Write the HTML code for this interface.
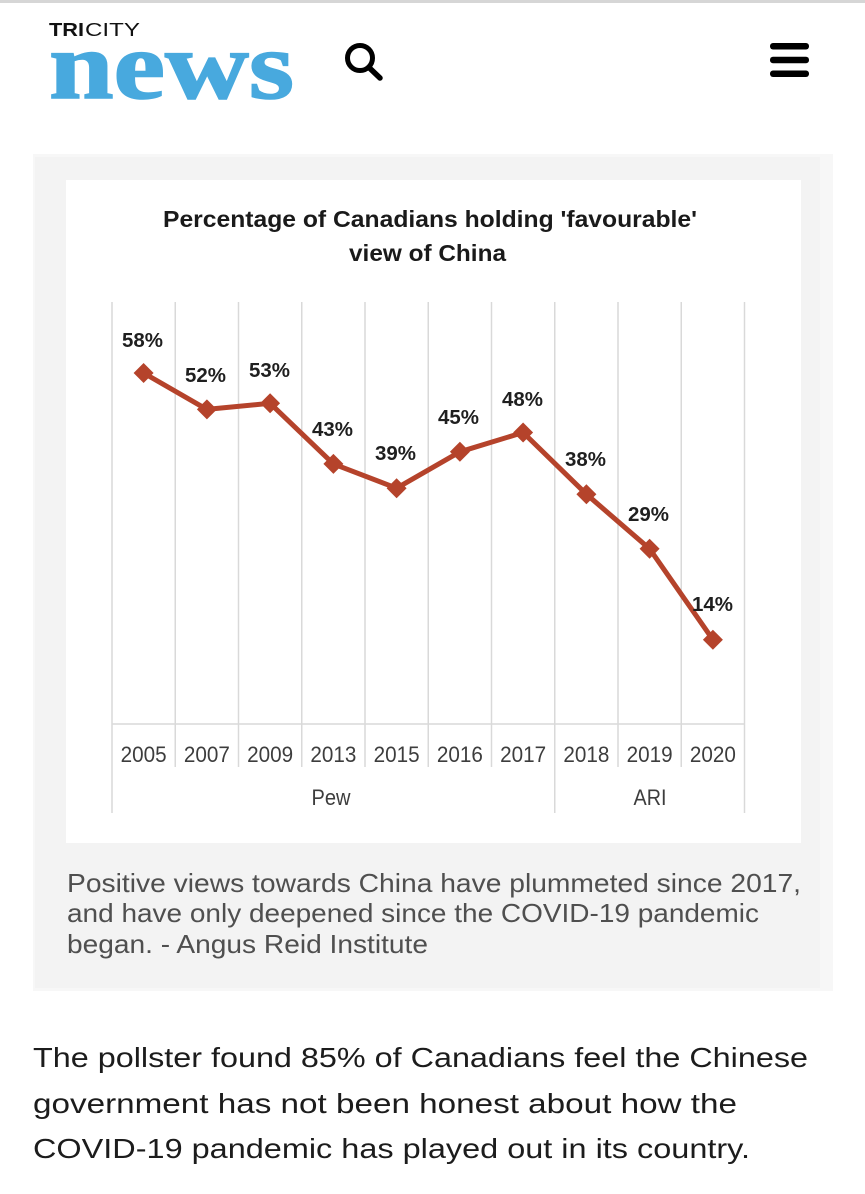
<!DOCTYPE html>
<html>
<head>
<meta charset="utf-8">
<style>
  html, body { margin:0; padding:0; background:#ffffff; }
  body { width:865px; height:1194px; overflow:hidden; }
  svg { display:block; }
  .sans { font-family: "Liberation Sans", Arial, sans-serif; }
  .serif { font-family: "Liberation Serif", "Times New Roman", serif; }
</style>
</head>
<body>
<svg width="865" height="1194" viewBox="0 0 865 1194" xmlns="http://www.w3.org/2000/svg">
  <!-- top thin line -->
  <rect x="0" y="0" width="865" height="3" fill="#d6d6d6"/>

  <!-- Logo -->
  <text class="sans" x="49" y="36" font-size="18" font-weight="bold" fill="#111" textLength="35" lengthAdjust="spacingAndGlyphs">TRI</text>
  <text class="sans" x="85" y="36" font-size="18" fill="#111" textLength="55" lengthAdjust="spacingAndGlyphs">CITY</text>
  <text class="serif" x="49" y="98" font-size="96" font-weight="bold" fill="#48a9de" stroke="#48a9de" stroke-width="1.6" textLength="245" lengthAdjust="spacingAndGlyphs">news</text>

  <!-- Search icon -->
  <circle cx="360" cy="58" r="12.5" fill="none" stroke="#000" stroke-width="5"/>
  <line x1="369" y1="67.5" x2="380" y2="78" stroke="#000" stroke-width="5.5" stroke-linecap="round"/>

  <!-- Hamburger -->
  <rect x="770" y="43" width="39" height="6.5" rx="3" fill="#000"/>
  <rect x="770" y="56.8" width="39" height="6.5" rx="3" fill="#000"/>
  <rect x="770" y="70.5" width="39" height="6.5" rx="3" fill="#000"/>

  <!-- Caption box -->
  <rect x="33" y="154" width="800" height="837" fill="#f7f7f7"/>
  <rect x="35" y="157" width="785" height="831" fill="#f3f3f3"/>

  <!-- White chart panel -->
  <rect x="66" y="180" width="735" height="663" fill="#ffffff"/>

  <!-- Chart title -->
  <text class="sans" x="163" y="227" font-size="23" font-weight="bold" fill="#1a1a1a" textLength="534" lengthAdjust="spacingAndGlyphs">Percentage of Canadians holding 'favourable'</text>
  <text class="sans" x="349" y="261" font-size="23" font-weight="bold" fill="#1a1a1a" textLength="157" lengthAdjust="spacingAndGlyphs">view of China</text>

  <!-- Gridlines -->
  <g stroke="#d9d9d9" stroke-width="1.5">
    <line x1="112" y1="302" x2="112" y2="813"/>
    <line x1="175.25" y1="302" x2="175.25" y2="767"/>
    <line x1="238.5" y1="302" x2="238.5" y2="767"/>
    <line x1="301.75" y1="302" x2="301.75" y2="767"/>
    <line x1="365" y1="302" x2="365" y2="767"/>
    <line x1="428.25" y1="302" x2="428.25" y2="767"/>
    <line x1="491.5" y1="302" x2="491.5" y2="767"/>
    <line x1="554.75" y1="302" x2="554.75" y2="813"/>
    <line x1="618" y1="302" x2="618" y2="767"/>
    <line x1="681.25" y1="302" x2="681.25" y2="767"/>
    <line x1="744.5" y1="302" x2="744.5" y2="813"/>
    <line x1="112" y1="724" x2="744.5" y2="724"/>
  </g>

  <!-- Year labels -->
  <g class="sans" font-size="22" fill="#3d3d3d" text-anchor="middle">
    <text x="143.6" y="762" textLength="46" lengthAdjust="spacingAndGlyphs">2005</text>
    <text x="206.9" y="762" textLength="46" lengthAdjust="spacingAndGlyphs">2007</text>
    <text x="270.1" y="762" textLength="46" lengthAdjust="spacingAndGlyphs">2009</text>
    <text x="333.4" y="762" textLength="46" lengthAdjust="spacingAndGlyphs">2013</text>
    <text x="396.6" y="762" textLength="46" lengthAdjust="spacingAndGlyphs">2015</text>
    <text x="459.9" y="762" textLength="46" lengthAdjust="spacingAndGlyphs">2016</text>
    <text x="523.1" y="762" textLength="46" lengthAdjust="spacingAndGlyphs">2017</text>
    <text x="586.4" y="762" textLength="46" lengthAdjust="spacingAndGlyphs">2018</text>
    <text x="649.6" y="762" textLength="46" lengthAdjust="spacingAndGlyphs">2019</text>
    <text x="712.9" y="762" textLength="46" lengthAdjust="spacingAndGlyphs">2020</text>
    <text x="331" y="805" textLength="39" lengthAdjust="spacingAndGlyphs">Pew</text>
    <text x="650" y="805" textLength="33" lengthAdjust="spacingAndGlyphs">ARI</text>
  </g>

  <!-- Series line -->
  <polyline fill="none" stroke="#b5432b" stroke-width="5" stroke-linejoin="round"
    points="143.6,373 206.9,409.4 270.1,403.3 333.4,463.9 396.6,488.2 459.9,451.8 523.1,432.5 586.4,494.2 649.6,548.8 712.9,639.7"/>

  <!-- Markers -->
  <g fill="#b5432b">
    <polygon points="143.6,363 153.6,373 143.6,383 133.6,373"/>
    <polygon points="206.9,399.4 216.9,409.4 206.9,419.4 196.9,409.4"/>
    <polygon points="270.1,393.3 280.1,403.3 270.1,413.3 260.1,403.3"/>
    <polygon points="333.4,453.9 343.4,463.9 333.4,473.9 323.4,463.9"/>
    <polygon points="396.6,478.2 406.6,488.2 396.6,498.2 386.6,488.2"/>
    <polygon points="459.9,441.8 469.9,451.8 459.9,461.8 449.9,451.8"/>
    <polygon points="523.1,422.5 533.1,432.5 523.1,442.5 513.1,432.5"/>
    <polygon points="586.4,484.2 596.4,494.2 586.4,504.2 576.4,494.2"/>
    <polygon points="649.6,538.8 659.6,548.8 649.6,558.8 639.6,548.8"/>
    <polygon points="712.9,629.7 722.9,639.7 712.9,649.7 702.9,639.7"/>
  </g>

  <!-- Data labels -->
  <g class="sans" font-size="20" font-weight="bold" fill="#1f1f1f">
    <text x="122" y="347" textLength="41" lengthAdjust="spacingAndGlyphs">58%</text>
    <text x="185" y="382" textLength="41" lengthAdjust="spacingAndGlyphs">52%</text>
    <text x="249" y="377" textLength="41" lengthAdjust="spacingAndGlyphs">53%</text>
    <text x="312" y="436" textLength="41" lengthAdjust="spacingAndGlyphs">43%</text>
    <text x="375" y="460" textLength="41" lengthAdjust="spacingAndGlyphs">39%</text>
    <text x="438" y="424" textLength="41" lengthAdjust="spacingAndGlyphs">45%</text>
    <text x="502" y="406" textLength="41" lengthAdjust="spacingAndGlyphs">48%</text>
    <text x="565" y="466" textLength="41" lengthAdjust="spacingAndGlyphs">38%</text>
    <text x="628" y="521" textLength="41" lengthAdjust="spacingAndGlyphs">29%</text>
    <text x="692" y="611" textLength="41" lengthAdjust="spacingAndGlyphs">14%</text>
  </g>

  <!-- Caption -->
  <g class="sans" font-size="26" fill="#4f4f4f">
    <text x="67" y="892" textLength="734" lengthAdjust="spacingAndGlyphs">Positive views towards China have plummeted since 2017,</text>
    <text x="67" y="922" textLength="692" lengthAdjust="spacingAndGlyphs">and have only deepened since the COVID-19 pandemic</text>
    <text x="67" y="953" textLength="361" lengthAdjust="spacingAndGlyphs">began. - Angus Reid Institute</text>
  </g>

  <!-- Body text -->
  <g class="sans" font-size="28" fill="#1c1c1c">
    <text x="33" y="1067" textLength="775" lengthAdjust="spacingAndGlyphs">The pollster found 85% of Canadians feel the Chinese</text>
    <text x="33" y="1113" textLength="704" lengthAdjust="spacingAndGlyphs">government has not been honest about how the</text>
    <text x="33" y="1158" textLength="717" lengthAdjust="spacingAndGlyphs">COVID-19 pandemic has played out in its country.</text>
  </g>
</svg>
</body>
</html>
